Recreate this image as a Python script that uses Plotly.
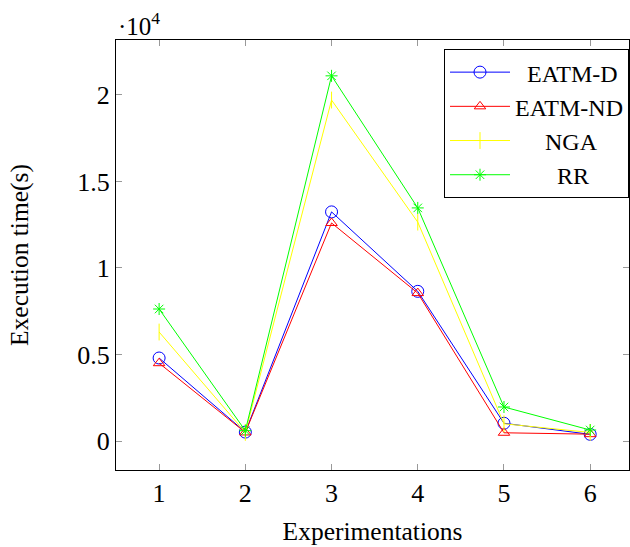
import plotly.graph_objects as go

experiments = [1, 2, 3, 4, 5, 6]
eatm_d = [4800, 520, 13240, 8650, 1030, 390]
eatm_nd = [4500, 500, 12600, 8550, 480, 400]
nga = [6300, 500, 19700, 12650, 1000, 500]
rr = [7630, 600, 21100, 13470, 1970, 640]
y_tickvals = [0, 5000, 10000, 15000, 20000]
y_ticktext = ["0", "0.5", "1", "1.5", "2"]

NB = "\u00a0"
series = [
    ("EATM-D", eatm_d, "#0000ff", "circle-open", 12, 2),
    ("EATM-ND", eatm_nd, "#ff0000", "triangle-up-open", 10, 0),
    ("NGA", nga, "#ffff00", "line-ns-open", 12, 5),
    ("RR", rr, "#00ff00", "asterisk-open", 10, 7),
]

fig = go.Figure()
for name, vals, color, sym, size, pad in series:
    fig.add_trace(go.Scatter(
        x=experiments, y=vals, mode="lines+markers",
        name=NB * pad + name,
        line=dict(color=color, width=1),
        marker=dict(symbol=sym, size=size, color=color, line=dict(color=color, width=1)),
    ))

font_fam = "Liberation Serif, Times New Roman, serif"
fig.update_layout(
    width=630, height=547,
    margin=dict(l=116, r=1, t=40, b=77),
    plot_bgcolor="white", paper_bgcolor="white",
    font=dict(family=font_fam, size=25.5, color="black"),
    showlegend=True,
    legend=dict(
        x=1.0, y=0.979, xanchor="right", yanchor="top",
        bgcolor="white", bordercolor="black", borderwidth=1,
        font=dict(size=24, family=font_fam), itemwidth=60,
        tracegroupgap=0,
    ),
    xaxis=dict(
        range=[0.5, 6.45], tickvals=experiments,
        ticks="inside", ticklen=6, tickcolor="#999999",
        showline=True, linecolor="black", linewidth=1, mirror="ticks",
        showgrid=False, zeroline=False,
        title=dict(text="Experimentations", font=dict(size=25.5), standoff=14),
        tickfont=dict(size=26),
    ),
    yaxis=dict(
        range=[-1670, 23170], tickvals=y_tickvals, ticktext=y_ticktext,
        ticks="inside", ticklen=6, tickcolor="#999999",
        showline=True, linecolor="black", linewidth=1, mirror="ticks",
        showgrid=False, zeroline=False,
        title=dict(text="Execution time(s)", font=dict(size=25.5), standoff=41),
        tickfont=dict(size=26),
    ),
    annotations=[dict(
        x=0, y=1, xref="paper", yref="paper", xanchor="left", yanchor="bottom",
        text="·10<sup>4</sup>", showarrow=False, font=dict(size=25), yshift=-2,
    )],
)
fig.write_html("out.html")
